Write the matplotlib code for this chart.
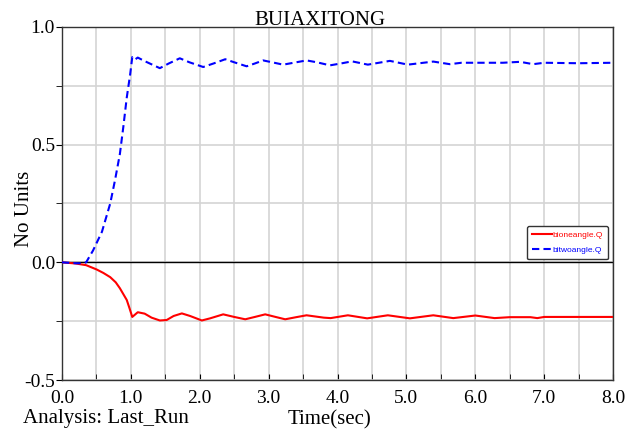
import matplotlib
matplotlib.use("Agg")
import matplotlib.pyplot as plt
from matplotlib.ticker import MultipleLocator

# bioneangle.Q (röd)
t_one = [0.0, 0.2, 0.35, 0.5, 0.6, 0.7, 0.78, 0.84, 0.9, 0.94, 0.98, 1.02,
         1.1, 1.2, 1.3, 1.42, 1.52, 1.62, 1.74, 1.86, 2.03, 2.15, 2.34, 2.5,
         2.66, 2.8, 2.95, 3.1, 3.24, 3.4, 3.55, 3.8, 3.9, 4.15, 4.43, 4.73,
         5.05, 5.39, 5.68, 6.0, 6.28, 6.5, 6.8, 6.9, 7.0, 8.0]
v_one = [0.0, -0.005, -0.012, -0.03, -0.045, -0.063, -0.085, -0.11, -0.14,
         -0.16, -0.195, -0.232, -0.212, -0.218, -0.235, -0.247, -0.245,
         -0.228, -0.217, -0.228, -0.247, -0.238, -0.221, -0.232, -0.242,
         -0.232, -0.221, -0.232, -0.242, -0.233, -0.225, -0.235, -0.237,
         -0.225, -0.238, -0.225, -0.238, -0.225, -0.237, -0.226, -0.237,
         -0.233, -0.233, -0.237, -0.232, -0.232]

# bitwoangle.Q (blå, streckad)
t_two = [0.0, 0.2, 0.3, 0.35, 0.45, 0.58, 0.70, 0.77, 0.84, 0.89, 0.94, 0.99,
         1.02, 1.06, 1.1, 1.2, 1.42, 1.55, 1.71, 1.85, 2.05, 2.2, 2.37, 2.5,
         2.68, 2.8, 2.92, 3.05, 3.21, 3.4, 3.55, 3.7, 3.89, 4.05, 4.21, 4.44,
         4.76, 5.02, 5.39, 5.63, 5.8, 6.4, 6.65, 6.84, 7.0, 7.5, 8.0]
v_two = [0.0, -0.004, -0.004, 0.0, 0.05, 0.13, 0.25, 0.35, 0.46, 0.575, 0.70,
         0.80, 0.872, 0.862, 0.870, 0.855, 0.825, 0.845, 0.867, 0.85, 0.83,
         0.845, 0.863, 0.85, 0.833, 0.845, 0.858, 0.85, 0.84, 0.85, 0.858,
         0.85, 0.837, 0.845, 0.854, 0.84, 0.856, 0.84, 0.853, 0.842, 0.848,
         0.848, 0.852, 0.842, 0.848, 0.846, 0.848]

labels = ["bioneangle.Q", "bitwoangle.Q"]
x_ticks = [0, 1, 2, 3, 4, 5, 6, 7, 8]
y_ticks = [-0.5, 0.0, 0.5, 1.0]
serif = "Liberation Serif"

fig = plt.figure(figsize=(6.34, 4.41), dpi=100)
ax = fig.add_axes([0.0978, 0.1383, 0.8692, 0.8005])

# rutnät
ax.xaxis.set_minor_locator(MultipleLocator(0.5))
ax.yaxis.set_minor_locator(MultipleLocator(0.25))
ax.grid(True, which="both", color="#d4d4d4", linewidth=1.2)
ax.set_axisbelow(True)
ax.axhline(0.0, color="black", linewidth=1.0, zorder=1.5)

ax.plot(t_one, v_one, color="#ff0000", linewidth=1.5, label=labels[0], zorder=3)
ax.plot(t_two, v_two, color="#0000ff", linewidth=1.5, dashes=(3.5, 2.0),
        label=labels[1], zorder=3)

ax.set_xlim(0, 8)
ax.set_ylim(-0.5, 1.0)
ax.set_xticks(x_ticks)
ax.set_xticklabels([f"{v:.1f}" for v in x_ticks], fontfamily=serif, fontsize=14)
ax.set_yticks(y_ticks)
ax.set_yticklabels([f"{v:.1f}" for v in y_ticks], fontfamily=serif, fontsize=14)
ax.tick_params(axis="x", which="both", direction="in", length=4, pad=7)
ax.tick_params(axis="y", which="both", direction="out", length=4, pad=1)

for s in ax.spines.values():
    s.set_color("#333333")
    s.set_linewidth(1.0)

fig.text(0.038, 0.526, "No Units", rotation=90, ha="center", va="center",
         fontfamily=serif, fontsize=15)
fig.text(0.505, 0.943, "BUIAXITONG", ha="center", va="baseline",
         fontfamily=serif, fontsize=15)
fig.text(0.036, 0.040, "Analysis: Last_Run", ha="left", va="baseline",
         fontfamily=serif, fontsize=15)
fig.text(0.52, 0.038, "Time(sec)", ha="center", va="baseline",
         fontfamily=serif, fontsize=15)

leg = ax.legend(loc="upper right", bbox_to_anchor=(0.9985, 0.448),
                prop={"family": "Liberation Sans", "size": 6},
                handlelength=2.4, handletextpad=0.1, borderpad=0.6,
                labelspacing=0.9, fancybox=True, framealpha=1.0,
                edgecolor="#333333")
leg.get_frame().set_linewidth(1.0)
for txt, c in zip(leg.get_texts(), ["#ff0000", "#0000ff"]):
    txt.set_color(c)

fig.savefig("out.png", dpi=100)
